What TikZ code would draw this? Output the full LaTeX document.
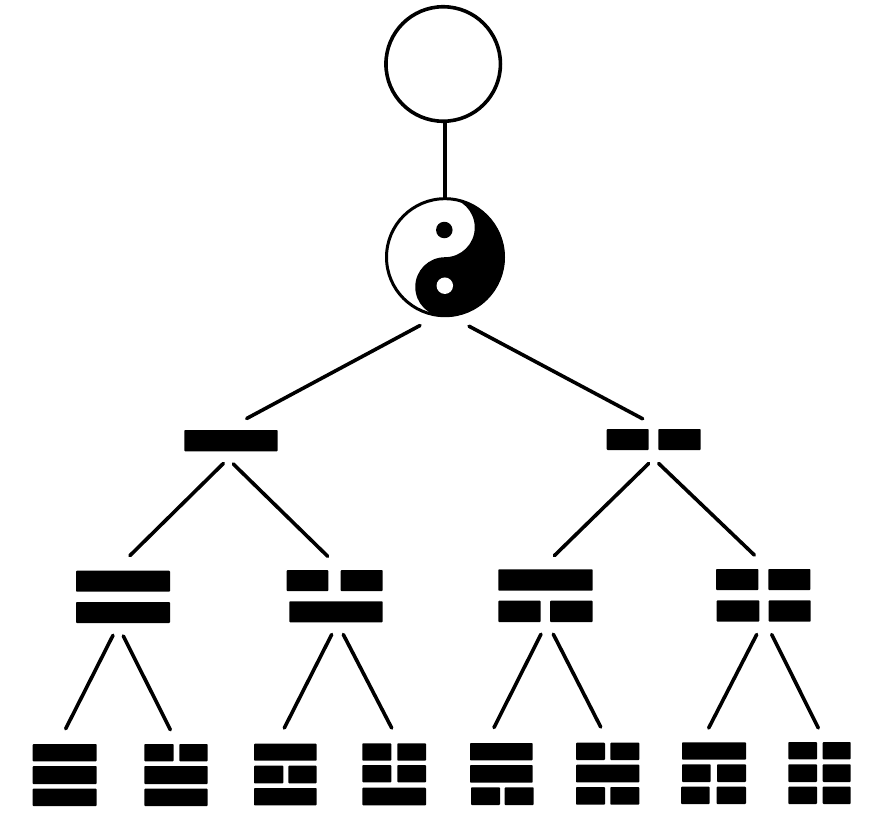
\documentclass[tikz,border=0pt]{standalone}
\tikzset{
  barbox/.style={fill=black,draw=none,inner sep=0pt,outer sep=0pt,rounded corners=0.8pt},
  ringbox/.style={circle,draw=black,fill=white,inner sep=0pt,outer sep=0pt},
  dotbox/.style={circle,inner sep=0pt,outer sep=0pt,minimum size=16.5pt},
  link/.style={draw=black,line width=3.6pt,line cap=round}
}
\newcommand{\barnode}[5]{\node[barbox,minimum width={(#4-#2)*1pt},minimum height={(#5-#3)*1pt}] (#1) at ({(#2+#4)/2},{(#3+#5)/2}) {};}
\begin{document}
\begin{tikzpicture}[x=1pt,y=-1pt]
\useasboundingbox (0,0) rectangle (881,827);
\fill[white] (0,0) rectangle (881,827);
% wuji and taiji
\node[ringbox,line width=3.6pt,minimum size=114.5pt] (wuji) at (443.2,64) {};
\node[ringbox,line width=3pt,minimum size=117pt] (taiji) at (445,257.2) {};
\fill[black] (445,197.7) arc[start angle=90,end angle=-90,radius=59.5pt]
  arc[start angle=-90,end angle=-270,radius=29.75pt]
  arc[start angle=-90,end angle=90,radius=29.75pt] -- cycle;
\node[dotbox,fill=black] (yangeye) at (444.3,230) {};
\node[dotbox,fill=white] (yineye) at (444.8,285.7) {};
% first level
\barnode{yangbar}{184.3}{430}{277.7}{451.3}
\barnode{yinbarA}{606.7}{429}{648.7}{450}
\barnode{yinbarB}{658.3}{429}{700.7}{450}
% second level
\barnode{bA}{76}{570.7}{170}{591.7}
\barnode{bB}{76}{602}{170}{623}
\barnode{bC}{286.7}{570}{328.3}{591}
\barnode{bD}{340.7}{570}{382.7}{591}
\barnode{bE}{289.3}{601.3}{382.7}{622.3}
\barnode{bF}{498.3}{569.3}{592.7}{590.7}
\barnode{bG}{498.3}{600.7}{540.7}{622}
\barnode{bH}{550}{600.7}{592.7}{622}
\barnode{bI}{716}{569}{758.3}{590}
\barnode{bJ}{768.3}{569}{810.3}{590}
\barnode{bK}{716.7}{600.3}{759.3}{621.7}
\barnode{bL}{768.7}{600.3}{810.7}{621.7}
% trigrams
\barnode{tAa}{32.7}{744}{96.7}{761.3}
\barnode{tAb}{32.7}{766}{96.7}{784}
\barnode{tAc}{32.7}{788.7}{96.7}{806}
\barnode{tBa}{144.3}{744}{173.7}{761.3}
\barnode{tBb}{179.3}{744}{207.7}{761.3}
\barnode{tBc}{144.3}{766}{207.7}{784}
\barnode{tBd}{144.3}{788.7}{207.7}{806}
\barnode{tCa}{254}{743.7}{316.7}{760.7}
\barnode{tCb}{254}{765.7}{283.3}{783.3}
\barnode{tCc}{288.3}{765.7}{316.7}{783.3}
\barnode{tCd}{254}{788}{316.7}{805.3}
\barnode{tDa}{362.3}{743.3}{391.3}{760.7}
\barnode{tDb}{397.3}{743.3}{426}{760.7}
\barnode{tDc}{362.3}{765}{391.3}{782.3}
\barnode{tDd}{397.3}{765}{426}{782.3}
\barnode{tDe}{362.3}{787.7}{426}{805.3}
\barnode{tEa}{470}{743}{532.7}{760.3}
\barnode{tEb}{470}{765}{532.7}{782.7}
\barnode{tEc}{471}{787.3}{500}{805}
\barnode{tEd}{504.7}{787.3}{533.7}{805}
\barnode{tFa}{576}{742.7}{605}{760}
\barnode{tFb}{610.3}{742.7}{639.3}{760}
\barnode{tFc}{576}{764.7}{639.3}{782.3}
\barnode{tFd}{576}{787}{605}{804.7}
\barnode{tFe}{610.3}{787}{639.3}{804.7}
\barnode{tGa}{682}{742.3}{746}{759.7}
\barnode{tGb}{682}{764.3}{710.7}{782}
\barnode{tGc}{717}{764.3}{746}{782}
\barnode{tGd}{681}{786.7}{709.7}{804}
\barnode{tGe}{716.7}{786.7}{746}{804}
\barnode{tHa}{788.3}{742}{817}{759.3}
\barnode{tHb}{822.7}{742}{850.7}{759.3}
\barnode{tHc}{788.3}{764.3}{817}{782}
\barnode{tHd}{822.7}{764.3}{850.7}{782}
\barnode{tHe}{788.3}{786.7}{817}{804}
\barnode{tHf}{822.7}{786.7}{850.7}{804}
% connector ends
\coordinate (p1) at (420,325.5);   \coordinate (q1) at (246.7,418.5);
\coordinate (p2) at (469,326.2);   \coordinate (q2) at (642.7,418.8);
\coordinate (p3) at (223.3,463.5); \coordinate (q3) at (130,555.5);
\coordinate (p4) at (233.3,464);   \coordinate (q4) at (327.7,556.3);
\coordinate (p5) at (648.7,463.5); \coordinate (q5) at (554.3,555.7);
\coordinate (p6) at (658.7,463.5); \coordinate (q6) at (754.3,555);
\coordinate (p7) at (113,635.3);   \coordinate (q7) at (65.7,728.7);
\coordinate (p8) at (123.3,636);   \coordinate (q8) at (170.3,729.7);
\coordinate (p9) at (331.7,634.5); \coordinate (q9) at (284.3,728);
\coordinate (p10) at (343.3,634.5);\coordinate (q10) at (391.7,728);
\coordinate (p11) at (541,634.2);  \coordinate (q11) at (494,727.5);
\coordinate (p12) at (553.3,634.2);\coordinate (q12) at (600.7,727);
\coordinate (p13) at (756.7,634.5);\coordinate (q13) at (708.7,728);
\coordinate (p14) at (771.7,634.5);\coordinate (q14) at (818.3,728);
% connectors
\draw[link,line cap=butt] (taiji.north) -- (taiji.north |- wuji.south);
\foreach \i in {1,...,14} {\draw[link] (p\i) -- (q\i);}
\end{tikzpicture}
\end{document}
